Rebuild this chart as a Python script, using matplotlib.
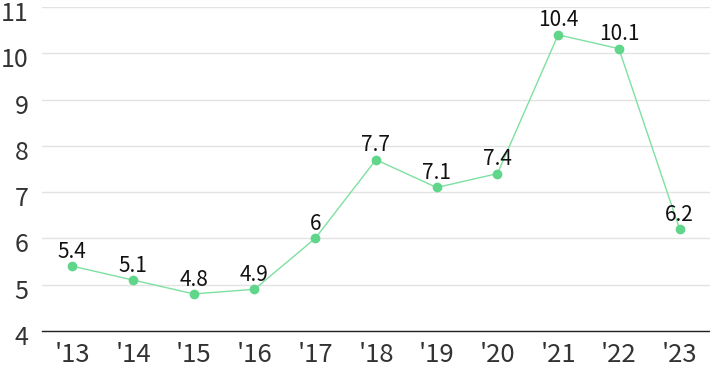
import matplotlib
matplotlib.use("Agg")
import matplotlib.pyplot as plt
import matplotlib.transforms as mtransforms

years = ["'13", "'14", "'15", "'16", "'17", "'18", "'19", "'20", "'21", "'22", "'23"]
values = [5.4, 5.1, 4.8, 4.9, 6.0, 7.7, 7.1, 7.4, 10.4, 10.1, 6.2]
labels = ["5.4", "5.1", "4.8", "4.9", "6", "7.7", "7.1", "7.4", "10.4", "10.1", "6.2"]
yticks = [4, 5, 6, 7, 8, 9, 10, 11]

plt.rcParams['font.family'] = ['Noto Sans CJK KR', 'DejaVu Sans']

fig = plt.figure(figsize=(7.10, 3.71), dpi=100)
ax = fig.add_axes([0.059, 0.108, 0.941, 0.873])
x = list(range(len(years)))
ax.plot(x, values, color="#7ee0a0", lw=1.0, marker="o", ms=6,
        markerfacecolor="#5fd68a", markeredgecolor="#5fd68a", zorder=3, clip_on=False)
for xi, v, l in zip(x, values, labels):
    ax.annotate(l, (xi, v), xytext=(0, 6), textcoords="offset points",
                ha="center", va="baseline", fontsize=15, color="#111111")
ax.set_xlim(-0.5, 10.5)
ax.set_ylim(4, 11)
ax.set_yticks(yticks)
ax.set_xticks(x)
ax.set_xticklabels(years)
ax.yaxis.grid(True, color="#e3e3e3", lw=1)
ax.set_axisbelow(True)
for s in ["top", "right", "left"]:
    ax.spines[s].set_visible(False)
ax.spines["bottom"].set_color("#222222")
ax.spines["bottom"].set_linewidth(1)
ax.tick_params(axis="x", length=0, labelsize=18.5, colors="#333333", pad=8)
ax.tick_params(axis="y", length=0, labelsize=18, colors="#333333", pad=9.5)
off = mtransforms.ScaledTranslation(0, -4 / 100, fig.dpi_scale_trans)
for t in ax.get_yticklabels():
    t.set_horizontalalignment("right")
    t.set_transform(t.get_transform() + off)
fig.savefig("out.png", dpi=100)
